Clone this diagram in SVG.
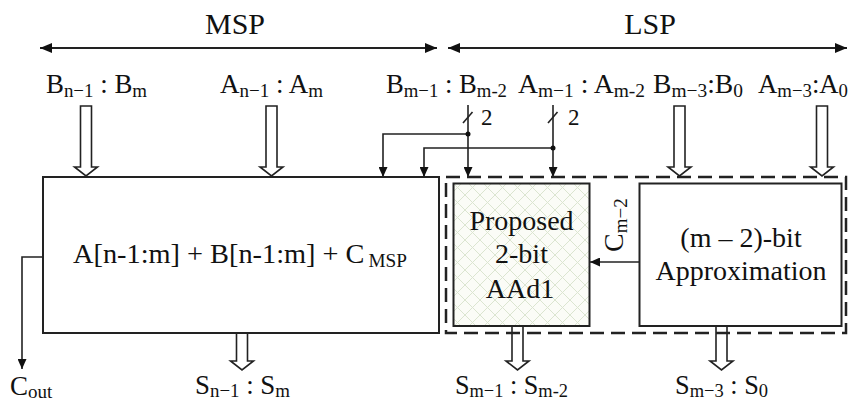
<svg xmlns="http://www.w3.org/2000/svg" width="849" height="402" viewBox="0 0 849 402" font-family="'Liberation Serif', 'Times New Roman', serif">
<style>
text{font-family:'Liberation Serif','Times New Roman',serif;fill:#111;}
.lbl{font-size:27px;}
.bx{font-size:28px;}
.big{font-size:30px;}
.sub{font-size:19px;}
.box{fill:#fff;stroke:#222;stroke-width:2;}
.wire{fill:none;stroke:#222;stroke-width:1.6;}
.bus{fill:#fff;stroke:#222;stroke-width:1.6;stroke-linejoin:miter;}
</style>
<defs>
<marker id="ah" markerWidth="12" markerHeight="10" refX="12" refY="5" orient="auto" markerUnits="userSpaceOnUse">
<path d="M0,0 L12,5 L0,10 Z" fill="#111"/>
</marker>
<marker id="ahs" markerWidth="12" markerHeight="10" refX="0" refY="5" orient="auto" markerUnits="userSpaceOnUse">
<path d="M12,0 L0,5 L12,10 Z" fill="#111"/>
</marker>
<marker id="sa" markerWidth="10" markerHeight="9" refX="10" refY="4.5" orient="auto" markerUnits="userSpaceOnUse">
<path d="M0,0 L10,4.5 L0,9 Z" fill="#111"/>
</marker>
<pattern id="hatch" width="15" height="15" patternUnits="userSpaceOnUse">
<rect width="15" height="15" fill="#fbfcf7"/>
<path d="M0,0 L15,15 M15,0 L0,15" stroke="#dbe5d0" stroke-width="1"/>
</pattern>
</defs>

<g id="range-labels">
<text class="big" x="235" y="34" text-anchor="middle">MSP</text>
<text class="big" x="650" y="34" text-anchor="middle">LSP</text>
</g>

<g id="connectors">
<line class="wire" x1="40" y1="48" x2="437" y2="48" marker-end="url(#ah)" marker-start="url(#ahs)" style="stroke-width:2"/>
<line class="wire" x1="448" y1="48" x2="847" y2="48" marker-end="url(#ah)" marker-start="url(#ahs)" style="stroke-width:2"/>
<!-- input buses -->
<path class="bus" d="M80.5,106 V167 H74.5 L86,176 L97.5,167 H91.5 V106 Z"/>
<path class="bus" d="M266,106 V167 H260 L271.5,176 L283,167 H277 V106 Z"/>
<path class="bus" d="M674,106 V167 H668 L679.5,176 L691,167 H685 V106 Z"/>
<path class="bus" d="M816.5,106 V167 H810.5 L822,176 L833.5,167 H827.5 V106 Z"/>
<!-- output buses -->
<path class="bus" d="M236.5,333 V361 H230.5 L242,370 L253.5,361 H247.5 V333 Z"/>
<path class="bus" d="M512,326 V361 H506 L517.5,370 L529,361 H523 V326 Z"/>
<path class="bus" d="M716,326 V361 H710 L721.5,370 L733,361 H727 V326 Z"/>
<!-- 2-bit wires -->
<line class="wire" x1="468" y1="105" x2="468" y2="177" marker-end="url(#sa)"/>
<polyline class="wire" points="468,134 383,134 383,177" marker-end="url(#sa)"/>
<line class="wire" x1="553" y1="105" x2="553" y2="177" marker-end="url(#sa)"/>
<polyline class="wire" points="553,148 424,148 424,177" marker-end="url(#sa)"/>
<circle cx="468" cy="134" r="2.5" fill="#111"/>
<circle cx="553" cy="148" r="2.5" fill="#111"/>
<line class="wire" x1="463" y1="123" x2="472.5" y2="112"/>
<line class="wire" x1="548" y1="123" x2="557.5" y2="112"/>
<!-- carry -->
<line class="wire" x1="639" y1="262" x2="590" y2="262" marker-end="url(#sa)"/>
<polyline class="wire" points="43,257 22,257 22,369" marker-end="url(#sa)"/>
</g>

<g id="input-labels" class="lbl">
<text x="46" y="93" textLength="101" lengthAdjust="spacingAndGlyphs">B<tspan class="sub" dy="4">n−1</tspan><tspan dy="-4"> : B</tspan><tspan class="sub" dy="4">m</tspan></text>
<text x="220" y="93" textLength="103" lengthAdjust="spacingAndGlyphs">A<tspan class="sub" dy="4">n−1</tspan><tspan dy="-4"> : A</tspan><tspan class="sub" dy="4">m</tspan></text>
<text x="386" y="93" textLength="121" lengthAdjust="spacingAndGlyphs">B<tspan class="sub" dy="4">m−1</tspan><tspan dy="-4"> : B</tspan><tspan class="sub" dy="4">m-2</tspan></text>
<text x="518" y="93" textLength="127" lengthAdjust="spacingAndGlyphs">A<tspan class="sub" dy="4">m−1</tspan><tspan dy="-4"> : A</tspan><tspan class="sub" dy="4">m-2</tspan></text>
<text x="653" y="93" textLength="90" lengthAdjust="spacingAndGlyphs">B<tspan class="sub" dy="4">m−3</tspan><tspan dy="-4">:B</tspan><tspan class="sub" dy="4">0</tspan></text>
<text x="758" y="93" textLength="90" lengthAdjust="spacingAndGlyphs">A<tspan class="sub" dy="4">m−3</tspan><tspan dy="-4">:A</tspan><tspan class="sub" dy="4">0</tspan></text>
<text x="481" y="125" style="font-size:23px">2</text>
<text x="568" y="125" style="font-size:23px">2</text>
</g>

<g id="msp-adder">
<rect class="box" x="43" y="177" width="396" height="156"/>
<text class="bx" x="73" y="263" textLength="334" lengthAdjust="spacingAndGlyphs">A[n-1:m] + B[n-1:m] + C<tspan class="sub" dx="4" dy="4">MSP</tspan></text>
</g>

<g id="lsp-group">
<rect x="446" y="177" width="400" height="156" fill="none" stroke="#222" stroke-width="2.5" stroke-dasharray="14,7"/>
</g>

<g id="aad1">
<rect x="453.5" y="183.5" width="136" height="142.5" fill="url(#hatch)" stroke="#222" stroke-width="2"/>
<text class="bx" x="521.5" y="230" text-anchor="middle">Proposed</text>
<text class="bx" x="521.5" y="263" text-anchor="middle">2-bit</text>
<text class="bx" x="520" y="298" text-anchor="middle">AAd1</text>
</g>

<g id="approx">
<rect class="box" x="639.5" y="183.5" width="202" height="142.5"/>
<text class="bx" x="741" y="247" text-anchor="middle">(m – 2)-bit</text>
<text class="bx" x="741" y="280" text-anchor="middle">Approximation</text>
</g>

<g id="carry-label">
<text class="bx" transform="translate(623,252) rotate(-90)" x="0" y="0">C<tspan class="sub" dy="4">m−2</tspan></text>
</g>

<g id="output-labels" class="lbl">
<text x="195" y="394" textLength="95" lengthAdjust="spacingAndGlyphs">S<tspan class="sub" dy="3">n−1</tspan><tspan dy="-3"> : S</tspan><tspan class="sub" dy="3">m</tspan></text>
<text x="455" y="394" textLength="113" lengthAdjust="spacingAndGlyphs">S<tspan class="sub" dy="3">m−1</tspan><tspan dy="-3"> : S</tspan><tspan class="sub" dy="3">m-2</tspan></text>
<text x="675" y="394" textLength="93" lengthAdjust="spacingAndGlyphs">S<tspan class="sub" dy="3">m−3</tspan><tspan dy="-3"> : S</tspan><tspan class="sub" dy="3">0</tspan></text>
<text x="10" y="395">C<tspan class="sub" dy="3">out</tspan></text>
</g>
</svg>
